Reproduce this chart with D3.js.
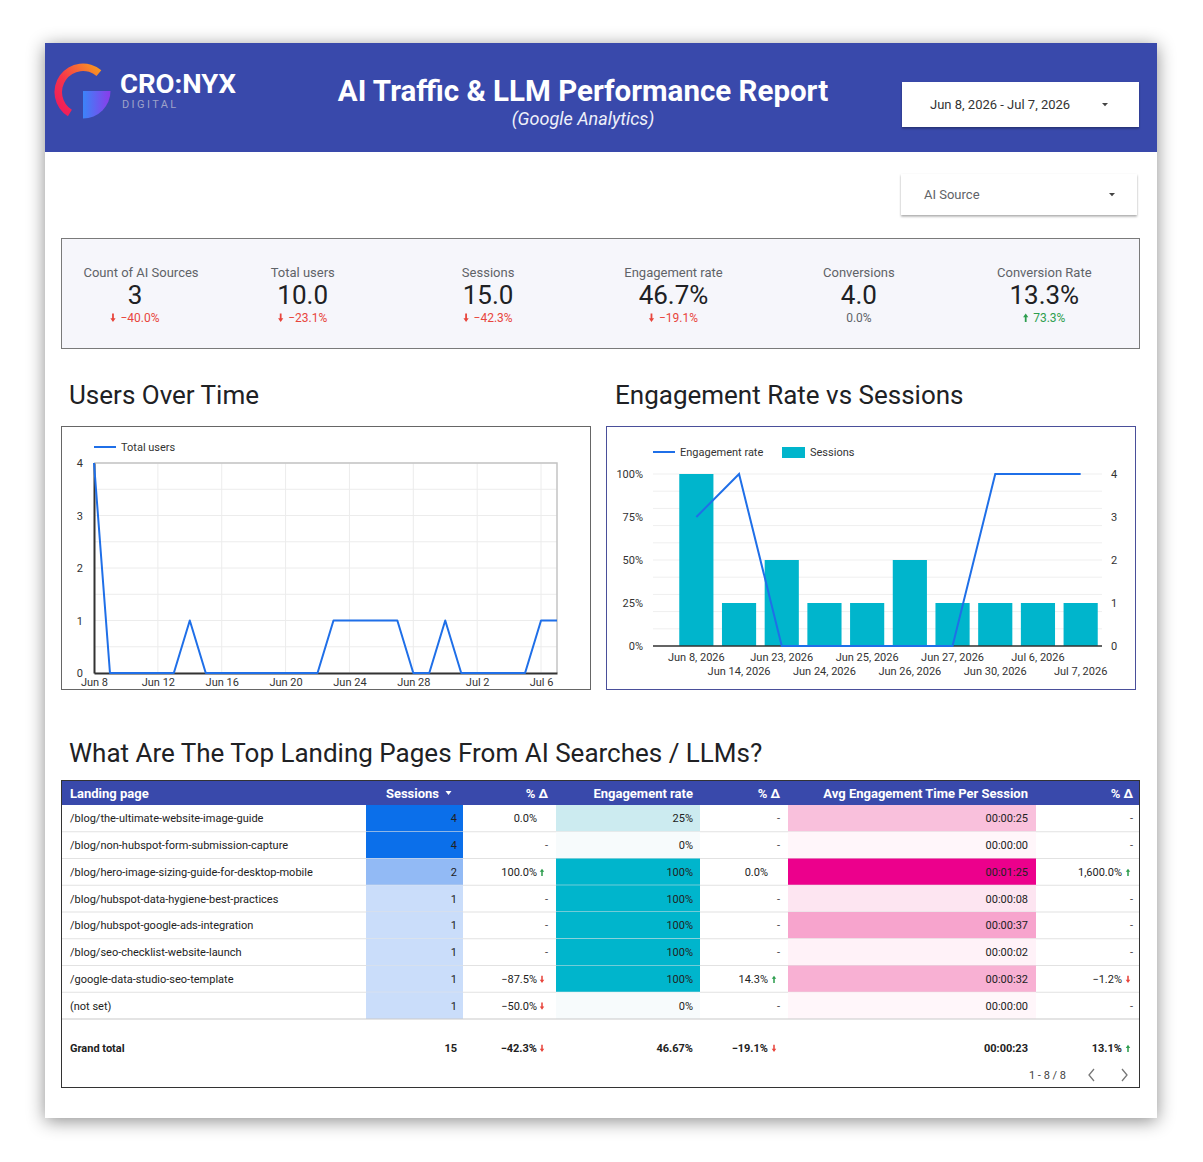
<!DOCTYPE html>
<html>
<head>
<meta charset="utf-8">
<script src="https://cdn.jsdelivr.net/npm/d3@7"></script>
<style>
  body { margin: 0; background: #fff; }
  svg { display: block; font-family: Roboto, 'Noto Sans', sans-serif; }
</style>
</head>
<body>
<script>
// ── DATA ──────────────────────────────────────────────────────────
const reportTitle = 'AI Traffic & LLM Performance Report';
const reportSubtitle = '(Google Analytics)';
const dateRangeLabel = 'Jun 8, 2026 - Jul 7, 2026';

const kpiLabels = ['Count of AI Sources', 'Total users', 'Sessions', 'Engagement rate', 'Conversions', 'Conversion Rate'];
const kpiValues = ['3', '10.0', '15.0', '46.7%', '4.0', '13.3%'];
const kpiDeltas = [-40.0, -23.1, -42.3, -19.1, 0.0, 73.3];

// users per day, Jun 8 2026 .. Jul 7 2026
const usersStart = new Date(2026, 5, 8);
const usersPerDay = [4,0,0,0,0,0,1,0,0,0,0,0,0,0,0,1,1,1,1,1,0,0,1,0,0,0,0,0,1,1];

const sessionDates = ['Jun 8, 2026','Jun 14, 2026','Jun 23, 2026','Jun 24, 2026','Jun 25, 2026',
                      'Jun 26, 2026','Jun 27, 2026','Jun 30, 2026','Jul 6, 2026','Jul 7, 2026'];
const sessionCounts   = [4, 1, 2, 1, 1, 2, 1, 1, 1, 1];
const engagementRates = [0.75, 1, 0, 0, 0, 0, 0, 1, 1, 1];

const landingPages = [
  '/blog/the-ultimate-website-image-guide',
  '/blog/non-hubspot-form-submission-capture',
  '/blog/hero-image-sizing-guide-for-desktop-mobile',
  '/blog/hubspot-data-hygiene-best-practices',
  '/blog/hubspot-google-ads-integration',
  '/blog/seo-checklist-website-launch',
  '/google-data-studio-seo-template',
  '(not set)'
];
const pageSessions      = [4, 4, 2, 1, 1, 1, 1, 1];
const pageSessionsDelta = [0, null, 100, null, null, null, -87.5, -50];
const pageEngagement    = [0.25, 0, 1, 1, 1, 1, 1, 0];
const pageEngDelta      = [null, null, 0, null, null, null, 14.3, null];
const pageAvgTime       = [25, 0, 85, 8, 37, 2, 32, 0];   // seconds
const pageAvgTimeDelta  = [null, null, 1600, null, null, null, -1.2, null];
const grandTotal = { sessions: 15, sessionsDelta: -42.3, engagement: 0.4667, engDelta: -19.1, avgTime: 23, avgTimeDelta: 13.1 };

// ── SETUP ─────────────────────────────────────────────────────────
const W = 1203, H = 1162;
const BLUE = '#3949ab', LINE = '#1f6fe8', TEAL = '#00b5cc';
const RED = '#e8453c', GREEN = '#2e9e4f';

const svg = d3.select('body').append('svg').attr('width', W).attr('height', H);
const defs = svg.append('defs');

const shadow = defs.append('filter').attr('id', 'cardShadow')
  .attr('x', '-10%').attr('y', '-10%').attr('width', '120%').attr('height', '120%');
shadow.append('feDropShadow').attr('dx', 0).attr('dy', 3).attr('stdDeviation', 9)
  .attr('flood-color', '#000').attr('flood-opacity', 0.45);

const smallShadow = defs.append('filter').attr('id', 'ddShadow')
  .attr('x', '-10%').attr('y', '-30%').attr('width', '120%').attr('height', '170%');
smallShadow.append('feDropShadow').attr('dx', 0).attr('dy', 1.5).attr('stdDeviation', 1.3)
  .attr('flood-color', '#000').attr('flood-opacity', 0.35);

const arcGrad = defs.append('linearGradient').attr('id', 'arcGrad')
  .attr('x1', '100%').attr('y1', '0%').attr('x2', '0%').attr('y2', '100%');
arcGrad.append('stop').attr('offset', '0%').attr('stop-color', '#f9a51c');
arcGrad.append('stop').attr('offset', '55%').attr('stop-color', '#f5354a');
arcGrad.append('stop').attr('offset', '100%').attr('stop-color', '#ee1460');

const qGrad = defs.append('linearGradient').attr('id', 'qGrad')
  .attr('x1', '0%').attr('y1', '0%').attr('x2', '100%').attr('y2', '0%');
qGrad.append('stop').attr('offset', '0%').attr('stop-color', '#3b84f8');
qGrad.append('stop').attr('offset', '100%').attr('stop-color', '#8b3bea');

// small arrow glyph used for deltas, centred on cx
function arrowAt(g, cx, yBase, up, color, s = 1) {
  const w = 5 * s, h = 8 * s, top = yBase - h, hw = w / 2, sw = w * 0.17;
  const gg = g.append('g').attr('transform', `translate(${cx},0)`);
  const d = up
    ? `M0,${top} L${hw},${top + 3.5 * s} L${sw},${top + 3.5 * s} L${sw},${yBase} L${-sw},${yBase} L${-sw},${top + 3.5 * s} L${-hw},${top + 3.5 * s} Z`
    : `M0,${yBase} L${hw},${yBase - 3.5 * s} L${sw},${yBase - 3.5 * s} L${sw},${top} L${-sw},${top} L${-sw},${yBase - 3.5 * s} L${-hw},${yBase - 3.5 * s} Z`;
  gg.append('path').attr('d', d).attr('fill', color);
}

// ── CARD + HEADER ─────────────────────────────────────────────────
svg.append('rect').attr('x', 45).attr('y', 43).attr('width', 1112).attr('height', 1075)
  .attr('fill', '#fff').attr('filter', 'url(#cardShadow)');
svg.append('rect').attr('x', 45).attr('y', 43).attr('width', 1112).attr('height', 109).attr('fill', BLUE);

// logo
const logo = svg.append('g').attr('transform', 'translate(83,92)');
logo.append('path')
  .attr('d', d3.arc().innerRadius(21).outerRadius(28.5)
    .startAngle(-148 * Math.PI / 180).endAngle(40 * Math.PI / 180)())
  .attr('fill', 'url(#arcGrad)');
logo.append('path')
  .attr('d', d3.arc().innerRadius(0).outerRadius(27.5)
    .startAngle(Math.PI / 2).endAngle(Math.PI)())
  .attr('transform', 'translate(0,-1)')
  .attr('fill', 'url(#qGrad)');
svg.append('text').attr('x', 120).attr('y', 93).attr('fill', '#fff')
  .attr('font-size', 25).attr('font-weight', 700)
  .attr('textLength', 116).attr('lengthAdjust', 'spacingAndGlyphs').text('CRO:NYX');
svg.append('text').attr('x', 122).attr('y', 108).attr('fill', '#9ea2c9')
  .attr('font-size', 11).attr('letter-spacing', 2.4).text('DIGITAL');

svg.append('text').attr('x', 583).attr('y', 101).attr('text-anchor', 'middle')
  .attr('fill', '#fff').attr('font-size', 29.5).attr('font-weight', 700).text(reportTitle);
svg.append('text').attr('x', 583).attr('y', 125).attr('text-anchor', 'middle')
  .attr('fill', '#eef0fa').attr('font-size', 18).attr('font-style', 'italic').text(reportSubtitle);

// dropdowns
function dropdown(x, y, w, h, label, color, tx, caretX) {
  svg.append('rect').attr('x', x).attr('y', y).attr('width', w).attr('height', h)
    .attr('fill', '#fff').attr('filter', 'url(#ddShadow)');
  svg.append('text').attr('x', tx).attr('y', y + h / 2 + 4.5).attr('fill', color)
    .attr('font-size', 13).text(label);
  const cy = y + h / 2;
  svg.append('path').attr('d', `M${caretX - 3},${cy - 1.5} L${caretX + 3},${cy - 1.5} L${caretX},${cy + 1.8} Z`)
    .attr('fill', '#444');
}
dropdown(902, 82, 237, 45, dateRangeLabel, '#333', 930, 1105);
dropdown(901, 174, 236, 41, 'AI Source', '#5f6368', 924, 1112);

// ── KPI ROW ───────────────────────────────────────────────────────
svg.append('rect').attr('x', 61.5).attr('y', 238.5).attr('width', 1078).attr('height', 110)
  .attr('fill', '#f6f6fb').attr('stroke', '#7a7a7a');

const kpiCol = d3.scaleBand().domain(d3.range(1, kpiLabels.length)).range([210, 1137]);
const kpiX = i => i === 0 ? 141 : kpiCol(i) + kpiCol.bandwidth() / 2;

kpiLabels.forEach((lab, i) => {
  const cx = kpiX(i);
  const vx = i === 0 ? cx - 6 : cx;   // first scorecard value sits a little left
  const g = svg.append('g');
  g.append('text').attr('x', cx).attr('y', 277).attr('text-anchor', 'middle')
    .attr('fill', '#5f6368').attr('font-size', 13).text(lab);
  g.append('text').attr('x', vx).attr('y', 304).attr('text-anchor', 'middle')
    .attr('fill', '#202124').attr('font-size', 26).text(kpiValues[i]);
  const dv = kpiDeltas[i];
  const col = dv > 0 ? GREEN : dv < 0 ? RED : '#5f6368';
  const t = g.append('text').attr('y', 322).attr('fill', col).attr('font-size', 12)
    .text(d3.format('.1f')(dv) + '%');
  const tw = t.node().getComputedTextLength();
  if (dv !== 0) {
    const total = tw + 10;
    t.attr('x', vx - total / 2 + 10);
    arrowAt(g, vx - total / 2 + 2.5, 322, dv > 0, col, 1.05);
  } else {
    t.attr('x', vx).attr('text-anchor', 'middle');
  }
});

// ── SECTION HEADINGS ──────────────────────────────────────────────
function heading(x, y, txt) {
  svg.append('text').attr('x', x).attr('y', y).attr('fill', '#202124')
    .attr('font-size', 26).text(txt);
}
heading(69, 404, 'Users Over Time');
heading(615, 404, 'Engagement Rate vs Sessions');
heading(69, 762, 'What Are The Top Landing Pages From AI Searches / LLMs?');

// ── USERS OVER TIME ───────────────────────────────────────────────
svg.append('rect').attr('x', 61.5).attr('y', 426.5).attr('width', 529).attr('height', 263)
  .attr('fill', '#fff').attr('stroke', '#666');

const userDates = usersPerDay.map((_, i) => d3.timeDay.offset(usersStart, i));
const lx = d3.scaleTime().domain(d3.extent(userDates)).range([94, 557]);
const ly = d3.scaleLinear().domain([0, 4]).range([673, 463]);
const lg = svg.append('g');

const dayTicks = d3.timeDay.range(usersStart, d3.timeDay.offset(userDates[userDates.length - 1], 1), 4);

lg.selectAll('.hg').data(ly.ticks(8)).enter().append('line')
  .attr('x1', 94).attr('x2', 557).attr('y1', d => ly(d)).attr('y2', d => ly(d))
  .attr('stroke', '#ececec');
lg.selectAll('.vg').data(dayTicks.slice(1)).enter().append('line')
  .attr('x1', d => lx(d)).attr('x2', d => lx(d)).attr('y1', 463).attr('y2', 673)
  .attr('stroke', '#ececec');
lg.append('path').attr('d', `M94,463 H557 V673`).attr('fill', 'none')
  .attr('stroke', '#c4c4c4').attr('stroke-width', 1.5);

const lxAxis = lg.append('g').attr('transform', 'translate(0,673)')
  .call(d3.axisBottom(lx).tickValues(dayTicks).tickFormat(d3.timeFormat('%b %-d')).tickSize(0).tickPadding(5));
lxAxis.select('.domain').attr('stroke', '#333').attr('stroke-width', 2);
lxAxis.selectAll('text').attr('font-size', 11).attr('fill', '#333').attr('font-family', 'Roboto, sans-serif');

const lyAxis = lg.append('g').attr('transform', 'translate(94,0)')
  .call(d3.axisLeft(ly).ticks(4).tickSize(0).tickPadding(11));
lyAxis.select('.domain').attr('stroke', '#333').attr('stroke-width', 2);
lyAxis.selectAll('text').attr('font-size', 11).attr('fill', '#333').attr('font-family', 'Roboto, sans-serif');

lg.append('path').datum(usersPerDay)
  .attr('d', d3.line().x((d, i) => lx(userDates[i])).y(d => ly(d)))
  .attr('fill', 'none').attr('stroke', LINE).attr('stroke-width', 2).attr('stroke-linejoin', 'round');

lg.append('line').attr('x1', 94).attr('x2', 116).attr('y1', 447).attr('y2', 447)
  .attr('stroke', LINE).attr('stroke-width', 2);
lg.append('text').attr('x', 121).attr('y', 451).attr('font-size', 11).attr('fill', '#333').text('Total users');

// ── ENGAGEMENT RATE VS SESSIONS ───────────────────────────────────
svg.append('rect').attr('x', 606.5).attr('y', 426.5).attr('width', 529).attr('height', 263)
  .attr('fill', '#fff').attr('stroke', '#4a4f9a');

const rx  = d3.scaleBand().domain(sessionDates).range([675, 1102]).paddingInner(0.2).paddingOuter(0.1);
const ryL = d3.scaleLinear().domain([0, 1]).range([646, 474]);
const ryR = d3.scaleLinear().domain([0, 4]).range([646, 474]);
const rg = svg.append('g');

rg.selectAll('.hg').data(ryL.ticks(8)).enter().append('line')
  .attr('x1', 653).attr('x2', 1102).attr('y1', d => ryL(d)).attr('y2', d => ryL(d))
  .attr('stroke', '#efefef');

rg.selectAll('.bar').data(sessionCounts).enter().append('rect')
  .attr('x', (d, i) => rx(sessionDates[i])).attr('width', rx.bandwidth())
  .attr('y', d => ryR(d)).attr('height', d => ryR(0) - ryR(d))
  .attr('fill', TEAL);

const ryLAxis = rg.append('g').attr('transform', 'translate(653,0)')
  .call(d3.axisLeft(ryL).tickValues([0, 0.25, 0.5, 0.75, 1]).tickFormat(d3.format('.0%')).tickSize(0).tickPadding(10));
ryLAxis.select('.domain').remove();
ryLAxis.selectAll('text').attr('font-size', 11).attr('fill', '#333').attr('font-family', 'Roboto, sans-serif');

const ryRAxis = rg.append('g').attr('transform', 'translate(1102,0)')
  .call(d3.axisRight(ryR).ticks(4).tickFormat(d3.format('d')).tickSize(0).tickPadding(9));
ryRAxis.select('.domain').remove();
ryRAxis.selectAll('text').attr('font-size', 11).attr('fill', '#333').attr('font-family', 'Roboto, sans-serif');

const rxAxis = rg.append('g').attr('transform', 'translate(0,646)')
  .call(d3.axisBottom(rx).tickSize(0).tickPadding(7));
rxAxis.select('.domain').remove();
rxAxis.selectAll('text').attr('font-size', 11).attr('fill', '#333').attr('font-family', 'Roboto, sans-serif')
  .attr('dy', (d, i) => i % 2 ? '2.0em' : '0.71em');
rg.append('line').attr('x1', 653).attr('x2', 1102).attr('y1', 646).attr('y2', 646)
  .attr('stroke', '#333').attr('stroke-width', 1.5);

rg.append('path').datum(engagementRates)
  .attr('d', d3.line().x((d, i) => rx(sessionDates[i]) + rx.bandwidth() / 2).y(d => ryL(d)))
  .attr('fill', 'none').attr('stroke', LINE).attr('stroke-width', 2);

rg.append('line').attr('x1', 653).attr('x2', 675).attr('y1', 452).attr('y2', 452)
  .attr('stroke', LINE).attr('stroke-width', 2);
rg.append('text').attr('x', 680).attr('y', 456).attr('font-size', 11).attr('fill', '#333').text('Engagement rate');
rg.append('rect').attr('x', 782).attr('y', 447).attr('width', 23).attr('height', 11).attr('fill', TEAL);
rg.append('text').attr('x', 810).attr('y', 456).attr('font-size', 11).attr('fill', '#333').text('Sessions');

// ── TABLE ─────────────────────────────────────────────────────────
const tg = svg.append('g');
const cols = [
  { x0: 61,   x1: 366 },   // landing page
  { x0: 366,  x1: 463 },   // sessions
  { x0: 463,  x1: 556 },   // % Δ
  { x0: 556,  x1: 700 },   // engagement
  { x0: 700,  x1: 788 },   // % Δ
  { x0: 788,  x1: 1036 },  // avg time
  { x0: 1036, x1: 1139 }   // % Δ
];
const rowY = d3.scaleBand().domain(d3.range(landingPages.length)).range([805, 1019]);
const rh = rowY.bandwidth();

const sessColor = d3.scaleLinear().domain([0, 4]).range(['#ffffff', '#0b6fea']).interpolate(d3.interpolateRgb.gamma(1.2));
const engColor  = d3.scaleLinear().domain([0, 1]).range(['#f7fbfc', TEAL]).interpolate(d3.interpolateRgb.gamma(1.5));
const timeColor = d3.scaleLinear().domain([0, 85]).range(['#fff6fa', '#ec008c']).interpolate(d3.interpolateRgb.gamma(1.4));

const fmtTime = s => '00:' + String(Math.floor(s / 60)).padStart(2, '0') + ':' + String(Math.round(s % 60)).padStart(2, '0');
const fmtDelta = d3.format(',.1f');

tg.append('rect').attr('x', 61).attr('y', 780).attr('width', 1078).attr('height', 25).attr('fill', BLUE);
const hdr = [
  { t: 'Landing page', x: 70, a: 'start' },
  { t: 'Sessions', x: 439, a: 'end' },
  { t: '% Δ', x: 548, a: 'end' },
  { t: 'Engagement rate', x: 693, a: 'end' },
  { t: '% Δ', x: 780, a: 'end' },
  { t: 'Avg Engagement Time Per Session', x: 1028, a: 'end' },
  { t: '% Δ', x: 1133, a: 'end' }
];
hdr.forEach(h => tg.append('text').attr('x', h.x).attr('y', 797.5).attr('text-anchor', h.a)
  .attr('fill', '#fff').attr('font-size', 13).attr('font-weight', 700).text(h.t));
tg.append('path').attr('d', 'M445.5,791 L451.5,791 L448.5,795 Z').attr('fill', '#fff');

const deltaCols = [
  { numEnd: 537, arrowX: 542, dashEnd: 548 },
  { numEnd: 768, arrowX: 774, dashEnd: 780 },
  { numEnd: 1122, arrowX: 1128, dashEnd: 1133 }
];
function deltaCell(g, dc, v, y, bold) {
  if (v === null) {
    g.append('text').attr('x', dc.dashEnd).attr('y', y).attr('text-anchor', 'end')
      .attr('font-size', 11).attr('fill', '#444').text('-');
    return;
  }
  g.append('text').attr('x', dc.numEnd).attr('y', y).attr('text-anchor', 'end')
    .attr('font-size', 11).attr('fill', '#222').attr('font-weight', bold ? 700 : 400)
    .text(fmtDelta(v) + '%');
  if (v !== 0) arrowAt(g, dc.arrowX, y, v > 0, v > 0 ? GREEN : RED, 0.9);
}

landingPages.forEach((page, i) => {
  const y0 = rowY(i), ty = y0 + rh / 2 + 4;
  const g = tg.append('g');
  g.append('rect').attr('x', cols[1].x0).attr('y', y0).attr('width', cols[1].x1 - cols[1].x0).attr('height', rh)
    .attr('fill', sessColor(pageSessions[i]));
  g.append('rect').attr('x', cols[3].x0).attr('y', y0).attr('width', cols[3].x1 - cols[3].x0).attr('height', rh)
    .attr('fill', engColor(pageEngagement[i]));
  g.append('rect').attr('x', cols[5].x0).attr('y', y0).attr('width', cols[5].x1 - cols[5].x0).attr('height', rh)
    .attr('fill', timeColor(pageAvgTime[i]));
  g.append('line').attr('x1', 61).attr('x2', 1139).attr('y1', y0 + rh).attr('y2', y0 + rh)
    .attr('stroke', i === landingPages.length - 1 ? '#c9c9c9' : '#e2e2e2').attr('stroke-width', 1.2);

  g.append('text').attr('x', 70).attr('y', ty).attr('font-size', 11).attr('fill', '#222').text(page);
  g.append('text').attr('x', 457).attr('y', ty).attr('text-anchor', 'end').attr('font-size', 11).attr('fill', '#222')
    .text(pageSessions[i]);
  deltaCell(g, deltaCols[0], pageSessionsDelta[i], ty);
  g.append('text').attr('x', 693).attr('y', ty).attr('text-anchor', 'end').attr('font-size', 11).attr('fill', '#222')
    .text(d3.format('.0%')(pageEngagement[i]));
  deltaCell(g, deltaCols[1], pageEngDelta[i], ty);
  g.append('text').attr('x', 1028).attr('y', ty).attr('text-anchor', 'end').attr('font-size', 11).attr('fill', '#222')
    .text(fmtTime(pageAvgTime[i]));
  deltaCell(g, deltaCols[2], pageAvgTimeDelta[i], ty);
});

// grand total
const gty = 1052;
const gt = tg.append('g').attr('font-weight', 700);
gt.append('text').attr('x', 70).attr('y', gty).attr('font-size', 11).attr('fill', '#222').text('Grand total');
gt.append('text').attr('x', 457).attr('y', gty).attr('text-anchor', 'end').attr('font-size', 11).attr('fill', '#222')
  .text(grandTotal.sessions);
deltaCell(gt, deltaCols[0], grandTotal.sessionsDelta, gty, true);
gt.append('text').attr('x', 693).attr('y', gty).attr('text-anchor', 'end').attr('font-size', 11).attr('fill', '#222')
  .text(d3.format('.2%')(grandTotal.engagement));
deltaCell(gt, deltaCols[1], grandTotal.engDelta, gty, true);
gt.append('text').attr('x', 1028).attr('y', gty).attr('text-anchor', 'end').attr('font-size', 11).attr('fill', '#222')
  .text(fmtTime(grandTotal.avgTime));
deltaCell(gt, deltaCols[2], grandTotal.avgTimeDelta, gty, true);

// pagination
tg.append('text').attr('x', 1066).attr('y', 1079).attr('text-anchor', 'end').attr('font-size', 11)
  .attr('fill', '#444').text(`1 - ${landingPages.length} / ${landingPages.length}`);
tg.append('path').attr('d', 'M1094,1069 L1089,1075 L1094,1081').attr('fill', 'none').attr('stroke', '#777').attr('stroke-width', 1.3);
tg.append('path').attr('d', 'M1122,1069 L1127,1075 L1122,1081').attr('fill', 'none').attr('stroke', '#777').attr('stroke-width', 1.3);

tg.append('rect').attr('x', 61.5).attr('y', 780.5).attr('width', 1078).attr('height', 307)
  .attr('fill', 'none').attr('stroke', '#333');
</script>
</body>
</html>
